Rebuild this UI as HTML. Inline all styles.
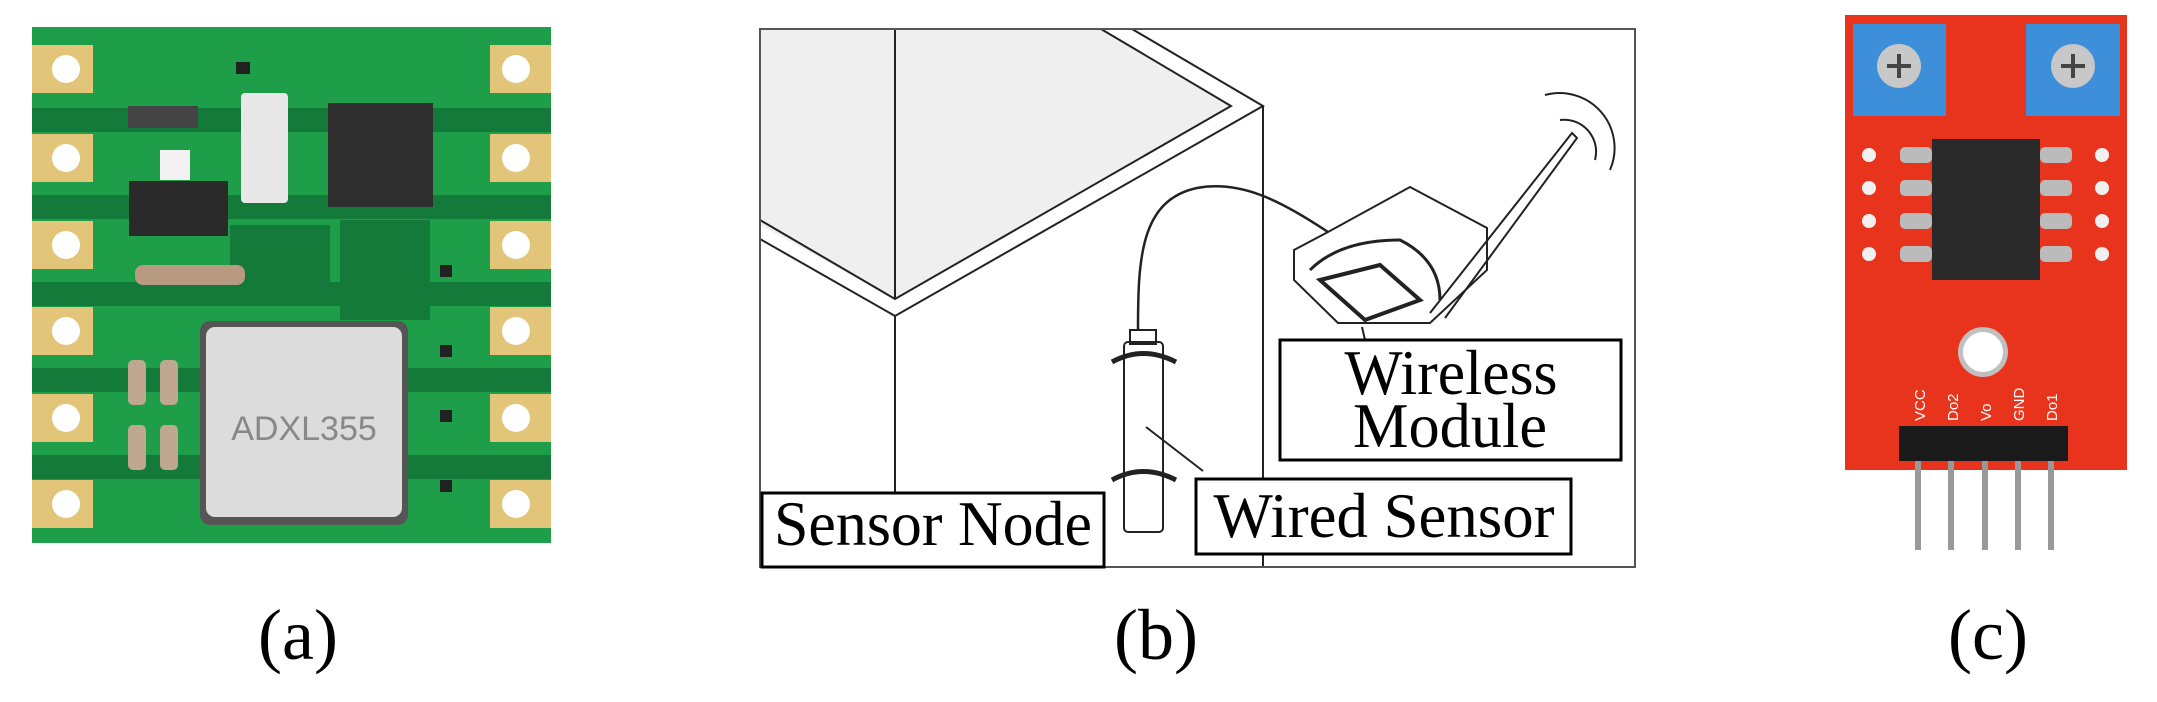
<!DOCTYPE html>
<html><head><meta charset="utf-8"><style>
html,body{margin:0;padding:0;background:#fff;}
svg{display:block;}
text{font-family:"Liberation Serif",serif;}
</style></head><body>
<svg width="2157" height="702" viewBox="0 0 2157 702" xmlns="http://www.w3.org/2000/svg">
<!-- (a) PCB -->
<rect x="32" y="27" width="519" height="516" fill="#1f9e4a"/>
<g fill="#137a3a">
<rect x="32" y="108" width="519" height="24"/><rect x="32" y="195" width="519" height="24"/>
<rect x="32" y="282" width="519" height="24"/><rect x="32" y="368" width="519" height="24"/>
<rect x="32" y="455" width="519" height="24"/>
<rect x="230" y="225" width="100" height="80"/><rect x="340" y="220" width="90" height="100"/>
</g>
<g fill="#e3c57a">
<rect x="32" y="45" width="61" height="48"/><rect x="32" y="134" width="61" height="48"/><rect x="32" y="221" width="61" height="48"/>
<rect x="32" y="307" width="61" height="48"/><rect x="32" y="394" width="61" height="48"/><rect x="32" y="480" width="61" height="48"/>
<rect x="490" y="45" width="61" height="48"/><rect x="490" y="134" width="61" height="48"/><rect x="490" y="221" width="61" height="48"/>
<rect x="490" y="307" width="61" height="48"/><rect x="490" y="394" width="61" height="48"/><rect x="490" y="480" width="61" height="48"/>
</g>
<g fill="#fff">
<circle cx="66" cy="69" r="14"/><circle cx="66" cy="158" r="14"/><circle cx="66" cy="245" r="14"/><circle cx="66" cy="331" r="14"/><circle cx="66" cy="418" r="14"/><circle cx="66" cy="504" r="14"/>
<circle cx="516" cy="69" r="14"/><circle cx="516" cy="158" r="14"/><circle cx="516" cy="245" r="14"/><circle cx="516" cy="331" r="14"/><circle cx="516" cy="418" r="14"/><circle cx="516" cy="504" r="14"/>
</g>
<rect x="241" y="93" width="47" height="110" rx="4" fill="#e8e8e8"/>
<rect x="328" y="103" width="105" height="104" fill="#2f2f2f"/>
<rect x="129" y="181" width="99" height="55" fill="#2a2a2a"/>
<rect x="160" y="150" width="30" height="30" fill="#f2f2f2"/>
<rect x="128" y="106" width="70" height="22" fill="#444"/>
<rect x="135" y="265" width="110" height="20" rx="8" fill="#b89a80"/>
<rect x="200" y="321" width="208" height="204" rx="10" fill="#555"/>
<rect x="206" y="327" width="196" height="190" rx="9" fill="#dcdcdc"/>
<text x="304" y="440" font-size="34" fill="#888" text-anchor="middle" style="font-family:'Liberation Sans',sans-serif">ADXL355</text>
<g fill="#c0a890"><rect x="128" y="360" width="18" height="45" rx="5"/><rect x="160" y="360" width="18" height="45" rx="5"/><rect x="128" y="425" width="18" height="45" rx="5"/><rect x="160" y="425" width="18" height="45" rx="5"/></g>
<g fill="#222"><rect x="440" y="265" width="12" height="12"/><rect x="440" y="345" width="12" height="12"/><rect x="440" y="410" width="12" height="12"/><rect x="440" y="480" width="12" height="12"/><rect x="236" y="62" width="14" height="12"/></g>

<!-- (b) drawing -->
<polygon points="760,29 1101,29 1231,106 895,299 760,225" fill="#efefef"/>
<g fill="none" stroke="#222" stroke-width="2">
<polyline points="1101,29 1231,106 895,299 760,220"/>
<polyline points="1132,29 1263,106 895,316 760,239"/>
<line x1="895" y1="29" x2="895" y2="299"/>
<line x1="895" y1="316" x2="895" y2="493"/>
<line x1="1263" y1="106" x2="1263" y2="567"/>
<path d="M1138,330 C1138,260 1140,200 1197,188 C1240,180 1280,200 1328,232" stroke-width="2.5"/>
<polygon points="1328,232 1410,187 1487,228 1487,270 1430,323 1338,323 1294,280 1294,250"/>
<path d="M1310,270 Q1340,240 1400,240 Q1440,260 1440,300" stroke-width="3"/>
<polygon points="1320,280 1380,265 1420,300 1365,320" stroke-width="4"/>
<polyline points="1430,313 1572,133 1577,138 1445,318"/>
<path d="M1560,120 A32,32 0 0 1 1595,160"/>
<path d="M1545,95 A55,55 0 0 1 1610,170"/>
<line x1="1362" y1="327" x2="1365" y2="340"/>
<line x1="1146" y1="427" x2="1203" y2="471"/>
<rect x="1124" y="342" width="39" height="190" rx="4"/>
<rect x="1130" y="330" width="26" height="14"/>
<path d="M1112,362 Q1143,345 1176,362" stroke-width="5"/>
<path d="M1112,480 Q1143,463 1176,480" stroke-width="5"/>
</g>
<rect x="760" y="29" width="875" height="538" fill="none" stroke="#555" stroke-width="2"/>
<g fill="#fff" stroke="#000" stroke-width="3">
<rect x="762" y="493" width="342" height="74"/>
<rect x="1196" y="479" width="375" height="75"/>
<rect x="1280" y="340" width="341" height="120"/>
</g>
<g font-size="64" fill="#000" text-anchor="middle">
<text x="933" y="545" textLength="318" lengthAdjust="spacingAndGlyphs">Sensor Node</text>
<text x="1384" y="537" textLength="341" lengthAdjust="spacingAndGlyphs">Wired Sensor</text>
<text x="1451" y="394" textLength="213" lengthAdjust="spacingAndGlyphs">Wireless</text>
<text x="1450" y="447" textLength="194" lengthAdjust="spacingAndGlyphs">Module</text>
</g>

<!-- (c) red board -->
<rect x="1845" y="15" width="282" height="455" fill="#e8341c"/>
<rect x="1853" y="24" width="93" height="92" fill="#3d8fd9"/>
<rect x="2026" y="24" width="94" height="92" fill="#3d8fd9"/>
<circle cx="1899" cy="66" r="22" fill="#c8c8c8"/><circle cx="2073" cy="66" r="22" fill="#c8c8c8"/>
<g stroke="#444" stroke-width="4"><line x1="1887" y1="66" x2="1911" y2="66"/><line x1="1899" y1="54" x2="1899" y2="78"/><line x1="2061" y1="66" x2="2085" y2="66"/><line x1="2073" y1="54" x2="2073" y2="78"/></g>
<rect x="1932" y="139" width="108" height="141" fill="#2a2a2a"/>
<g fill="#bbb"><rect x="1900" y="147" width="32" height="16" rx="5"/><rect x="1900" y="180" width="32" height="16" rx="5"/><rect x="1900" y="213" width="32" height="16" rx="5"/><rect x="1900" y="246" width="32" height="16" rx="5"/>
<rect x="2040" y="147" width="32" height="16" rx="5"/><rect x="2040" y="180" width="32" height="16" rx="5"/><rect x="2040" y="213" width="32" height="16" rx="5"/><rect x="2040" y="246" width="32" height="16" rx="5"/></g>
<g fill="#f0f0f0"><circle cx="1869" cy="155" r="7"/><circle cx="1869" cy="188" r="7"/><circle cx="1869" cy="221" r="7"/><circle cx="1869" cy="254" r="7"/>
<circle cx="2102" cy="155" r="7"/><circle cx="2102" cy="188" r="7"/><circle cx="2102" cy="221" r="7"/><circle cx="2102" cy="254" r="7"/></g>
<circle cx="1983" cy="352" r="25" fill="#c0c0c0"/><circle cx="1983" cy="352" r="20" fill="#fff"/>
<g fill="#fff" font-size="15" style="font-family:'Liberation Sans',sans-serif">
<text transform="translate(1925,421) rotate(-90)" style="font-family:'Liberation Sans',sans-serif">VCC</text>
<text transform="translate(1958,421) rotate(-90)" style="font-family:'Liberation Sans',sans-serif">Do2</text>
<text transform="translate(1991,421) rotate(-90)" style="font-family:'Liberation Sans',sans-serif">Vo</text>
<text transform="translate(2024,421) rotate(-90)" style="font-family:'Liberation Sans',sans-serif">GND</text>
<text transform="translate(2057,421) rotate(-90)" style="font-family:'Liberation Sans',sans-serif">Do1</text>
</g>
<g fill="#999"><rect x="1915" y="440" width="6" height="110"/><rect x="1948" y="440" width="6" height="110"/><rect x="1982" y="440" width="6" height="110"/><rect x="2015" y="440" width="6" height="110"/><rect x="2048" y="440" width="6" height="110"/></g>
<rect x="1899" y="426" width="169" height="35" fill="#1a1a1a"/>

<!-- labels -->
<g font-size="72" fill="#000" text-anchor="middle">
<text x="298" y="659">(a)</text>
<text x="1156" y="659">(b)</text>
<text x="1988" y="659">(c)</text>
</g>
</svg>
</body></html>
